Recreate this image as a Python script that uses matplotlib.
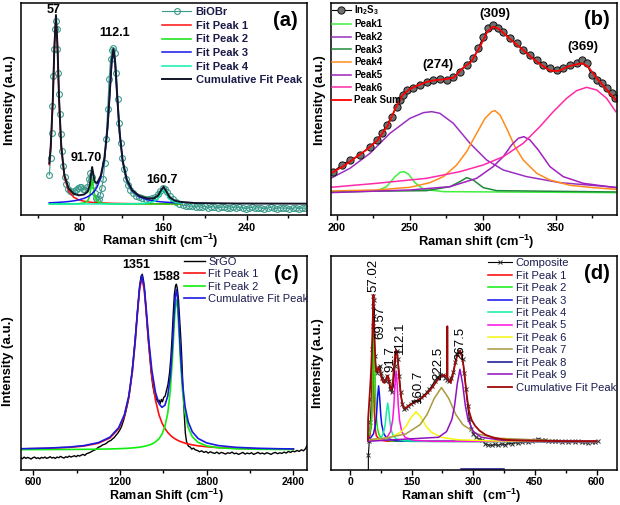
import matplotlib
matplotlib.use('Agg')
import matplotlib.pyplot as plt

plt.rcParams['font.family'] = ['Liberation Sans', 'DejaVu Sans']
plt.rcParams['font.weight'] = 'bold'
plt.rcParams['mathtext.fontset'] = 'custom'
plt.rcParams['mathtext.rm'] = 'Liberation Sans:bold'
plt.rcParams['mathtext.it'] = 'Liberation Sans:bold'
plt.rcParams['mathtext.bf'] = 'Liberation Sans:bold'
plt.rcParams['mathtext.default'] = 'rm'

# ---------------- Panel (a) BiOBr ----------------
xa_data = [50.6, 51.8, 52.8, 53.6, 54.4, 55.2, 56.0, 56.8, 57.6, 58.4, 59.2, 60.0, 60.8, 61.8, 62.8, 64.0, 65.4, 67.0, 68.8, 70.6,
           72.4, 74.2, 76.0, 77.8, 79.6, 81.4, 83.2, 85.0, 86.8, 88.4, 89.8, 91.2, 92.6, 94.0, 95.4, 96.8, 98.2, 99.6, 101.0, 102.4,
           103.8, 105.2, 106.6, 108.0, 109.4, 110.8, 112.2, 113.6, 115.0, 116.4, 117.8, 119.2, 120.6, 122.2, 124.0, 126.0, 128.5, 131.0, 134.0, 137.0,
           140, 143, 146, 149, 152, 154.5, 157, 159.4, 161.8, 164, 166.5, 169, 172, 175.5, 179]
ya_data = [123, 175, 250, 330, 420, 500, 560, 585, 560, 500, 430, 365, 305, 245, 195, 150, 118, 95, 82, 75,
           72, 74, 78, 84, 88, 86, 80, 78, 88, 110, 128, 118, 92, 68, 54, 48, 52, 64, 84, 112,
           160, 230, 320, 410, 470, 498, 505, 488, 430, 350, 280, 220, 175, 140, 112, 92, 78, 68, 60, 56,
           53, 50, 50, 53, 58, 66, 76, 84, 82, 72, 60, 50, 42, 36, 32]
xa_tail = [182, 185, 188, 191, 194, 197, 200, 203, 206, 209, 212, 215, 218, 221, 224, 227, 230, 233, 236, 239,
           242, 245, 248, 251, 254, 257, 260, 263, 266, 269, 272, 275, 278, 281, 284, 287, 290, 293, 296]
ya_tail = [31, 29, 30, 27, 28, 26, 29, 25, 27, 28, 24, 26, 27, 25, 23, 26, 24, 27, 25, 22,
           24, 26, 23, 25, 24, 21, 24, 26, 23, 22, 25, 23, 24, 21, 23, 25, 22, 24, 23]

fit_xa = [50.6, 52, 54, 55.5, 57, 58.5, 60, 62, 65, 69, 74, 79, 84, 87.5, 89.5, 90.7, 91.7, 92.7, 94, 96.5,
          100, 103.5, 106.5, 108.5, 110.5, 112.1, 113.7, 115.7, 118, 121, 125, 130, 137, 145, 151, 155, 158, 160.2, 162.5, 166,
          171, 176]
peak1_a = [154, 206, 344, 502, 598, 502, 344, 206, 118, 75.5, 56.4, 48.4, 44.3, 42.5, 41.7, 41.4, 41, 40.8, 40.4, 39.9,
           39.3, 38.8, 38.5, 38.3, 38.1, 38, 37.9, 37.8, 37.6, 37.5, 37.3, 37.1, 37, 36.8, 36.6, 36.6, 36.6, 36.5, 36.5, 36.5,
           36.4, 36.4]
peak2_a = [36.1, 36.1, 36.1, 36.2, 36.2, 36.2, 36.2, 36.2, 36.3, 36.4, 36.6, 37.2, 39.1, 45.5, 62, 90, 111, 90, 60.5, 43.5,
           38.7, 37.4, 36.9, 36.7, 36.5, 36.5, 36.4, 36.3, 36.3, 36.2, 36.2, 36.2, 36.1, 36.1, 36.1, 36.1, 36.1, 36.1, 36.1, 36.1,
           36.1, 36.1]
peak3_a = [39.7, 39.8, 40.1, 40.3, 40.6, 40.8, 41.1, 41.5, 42.2, 43.4, 45.4, 48.4, 53, 58, 61.8, 64.7, 67.3, 70.4, 75, 87.1,
           115.1, 170, 262.8, 359.5, 462, 498, 462, 359.5, 250.8, 163.7, 107, 75.8, 57.5, 48.6, 45.1, 43.5, 42.5, 42, 41.4, 40.8,
           40, 39.4]
peak4_a = [36.1, 36.1, 36.1, 36.1, 36.1, 36.1, 36.1, 36.1, 36.1, 36.1, 36.1, 36.1, 36.1, 36.2, 36.2, 36.2, 36.2, 36.2, 36.2, 36.2,
           36.2, 36.2, 36.3, 36.3, 36.3, 36.3, 36.3, 36.3, 36.4, 36.5, 36.6, 36.8, 37.3, 38.9, 43.2, 52.7, 70.6, 81, 69.8, 50.5,
           41.4, 38.7]
cum_xa = fit_xa + [190, 230, 297]
cum_a = [158, 210, 348, 507, 603, 507, 350, 212, 124, 83.5, 66.7, 62, 64.5, 74, 93.5, 124, 147, 129, 104, 98.5,
         121, 174.5, 267, 363, 465, 501, 465, 362, 253, 166, 109, 78, 60, 52.4, 53, 61, 77.8, 87.6, 75.8, 56,
         46, 42.6, 39, 37.5, 37]

# ---------------- Panel (b) In2S3 ----------------
xb_data = [197.5, 203.2, 208.9, 215.7, 222.6, 227.2, 230.6, 234.0, 237.5, 240.9, 243.2, 245.4, 247.7, 252.3, 256.8, 261.4,
           266.0, 270.5, 275.1, 279.7, 284.2, 288.8, 293.3, 296.8, 300.2, 303.6, 307.0, 310.5, 313.9, 318.5, 323.0, 327.6,
           332.2, 336.8, 341.3, 345.9, 350.5, 355.0, 359.6, 364.2, 367.6, 371.0, 374.4, 377.9, 381.3, 384.7, 388.1, 390.4]
yb_data = [130, 150, 165, 180, 205, 225, 245, 270, 295, 325, 345, 360, 375, 380, 390, 400,
           405, 407, 405, 413, 430, 450, 470, 500, 535, 560, 570, 560, 550, 530, 515, 495,
           480, 465, 450, 440, 435, 440, 450, 455, 465, 455, 420, 405, 395, 380, 365, 350]
xb_sum = [197, 205, 212, 220, 228, 235, 240, 245, 250, 256, 262, 268, 274, 280, 286, 292, 298, 303, 307, 311,
          316, 322, 328, 334, 340, 346, 352, 358, 364, 368, 372, 378, 384, 391]
yb_sum = [128, 148, 170, 195, 225, 270, 320, 360, 378, 390, 400, 405, 407, 412, 440, 460, 505, 550, 565, 558,
          538, 515, 493, 470, 450, 433, 432, 445, 452, 455, 445, 410, 380, 345]
p1b_x = [195.7, 227.2, 234.0, 239.8, 243.2, 245.9, 248.9, 253.4, 259.2, 272.9, 391.0]
p1b_y = [68, 72, 85, 115, 128, 130, 123, 97, 77, 70, 67]
p2b_x = [195.7, 208.9, 222.6, 236.3, 250.0, 259.2, 264.9, 270.5, 279.7, 291.1, 302.5, 313.9, 329.9, 352.7, 391.0]
p2b_y = [110, 140, 185, 245, 290, 307, 310, 305, 275, 215, 165, 135, 115, 97, 83]
p3b_x = [195.7, 261.4, 277.5, 284.2, 288.8, 293.3, 300.2, 309.4, 391.0]
p3b_y = [70, 73, 85, 100, 112, 105, 82, 73, 69]
p4b_x = [195.7, 227.2, 250.0, 263.7, 272.9, 282.0, 288.8, 295.7, 301.4, 306.0, 308.2, 311.7, 316.2, 321.9, 327.6, 336.8,
         345.9, 359.6, 375.6, 391.0]
p4b_y = [72, 75, 83, 97, 115, 150, 190, 245, 290, 310, 313, 300, 260, 205, 165, 125, 105, 89, 82, 77]
p5b_x = [195.7, 250.0, 277.5, 295.7, 307.0, 313.9, 319.6, 324.2, 328.0, 332.2, 337.9, 345.9, 355.0, 368.7, 391.0]
p5b_y = [67, 75, 85, 110, 145, 175, 210, 230, 235, 225, 195, 145, 115, 95, 82]
p6b_x = [195.7, 227.2, 261.4, 284.2, 300.2, 313.9, 327.6, 339.0, 348.2, 357.3, 364.2, 371.0, 377.9, 384.7, 391.0]
p6b_y = [83, 95, 110, 130, 150, 175, 215, 265, 310, 350, 373, 383, 375, 350, 310]

# ---------------- Panel (c) SrGO ----------------
xc_left = [512, 524, 536, 548, 560, 572, 584, 596, 608, 620, 632, 644, 656, 668, 680, 692, 704, 716, 728, 740,
           752, 764, 776, 788, 800, 812, 824, 836, 848, 860, 872, 884, 896, 908, 920, 932, 944, 956, 968, 980,
           992, 1004, 1016, 1028, 1040, 1052, 1064, 1076, 1088, 1100, 1112, 1124, 1136, 1148, 1160, 1172, 1184, 1196]
yc_left = [36, 33, 38, 34, 37, 35, 32, 36, 38, 34, 36, 33, 37, 35, 38, 34, 36, 39, 35, 37,
           34, 38, 36, 40, 37, 35, 39, 37, 41, 38, 40, 42, 39, 43, 41, 44, 46, 43, 48, 50,
           52, 55, 58, 60, 64, 68, 70, 74, 76, 78, 82, 86, 88, 93, 97, 104, 110, 118]
xc_mid = [1210, 1225, 1240, 1255, 1268, 1280, 1292, 1304, 1316, 1328, 1338, 1346, 1354, 1362, 1372, 1382, 1392, 1402, 1414, 1426,
          1438, 1450, 1460, 1470, 1478, 1486, 1494, 1502, 1512, 1522, 1532, 1542, 1552, 1560, 1568, 1576, 1584, 1590, 1596, 1604,
          1612, 1620, 1628, 1636, 1644, 1652, 1660, 1668, 1676, 1686, 1696, 1708, 1720]
yc_mid = [130, 150, 175, 205, 240, 285, 335, 390, 455, 515, 562, 585, 590, 572, 530, 470, 410, 360, 300, 255,
          228, 215, 205, 210, 200, 212, 205, 218, 222, 240, 258, 290, 340, 400, 470, 530, 555, 560, 548, 515,
          460, 400, 330, 240, 170, 110, 85, 75, 70, 68, 62, 65, 60]
xc_right = [1735, 1750, 1765, 1780, 1795, 1810, 1825, 1840, 1855, 1870, 1885, 1900, 1915, 1930, 1945, 1960, 1975, 1990, 2005, 2020,
            2035, 2050, 2065, 2080, 2095, 2110, 2125, 2140, 2155, 2170, 2185, 2200, 2215, 2230, 2245, 2260, 2275, 2290, 2305, 2320,
            2335, 2350, 2365, 2380, 2395, 2410, 2425, 2440, 2455, 2470, 2485, 2492]
yc_right = [58, 54, 57, 52, 55, 50, 54, 51, 49, 53, 48, 52, 50, 47, 51, 49, 53, 48, 50, 46,
            49, 52, 47, 50, 48, 51, 46, 49, 52, 48, 50, 47, 51, 49, 46, 50, 52, 48, 51, 49,
            53, 50, 55, 52, 56, 54, 58, 55, 60, 57, 64, 72]
fit_xc = [512, 700, 850, 950, 1050, 1130, 1190, 1230, 1260, 1285, 1305, 1320, 1335, 1351, 1367, 1382, 1400, 1420, 1445, 1470,
          1490, 1510, 1530, 1548, 1562, 1574, 1582, 1590, 1598, 1606, 1618, 1632, 1650, 1672, 1700, 1740, 1800, 1880, 2000, 2150,
          2300, 2400]
red_c = [62.6, 64.4, 67.3, 71.3, 79.8, 95.6, 123.2, 162, 217, 294, 386, 469, 544, 578, 544, 469, 371, 283, 210, 165,
         141.3, 124.6, 112.3, 104, 98.7, 95, 92.8, 90.7, 88.9, 87.2, 84.9, 82.6, 80.1, 77.5, 74.9, 72, 69.1, 66.6, 64.4, 62.9,
         62.1, 61.7]
green_c = [60.5, 60.7, 61, 61.3, 61.8, 62.5, 63.3, 64, 64.8, 65.6, 66.3, 67.1, 67.9, 69, 70.3, 71.8, 74, 77.4, 83.6, 93.7,
           106.9, 129.5, 170, 239.5, 330, 431, 489, 513, 489, 431, 330, 239.5, 170, 126.6, 99.4, 82.2, 71.6, 66.1, 63.1, 61.7,
           61, 60.8]
cum_c = [63.1, 65.1, 68.3, 72.6, 81.6, 98.1, 126.5, 166, 221.8, 299.6, 392.3, 476.1, 551.9, 587, 554.3, 480.8, 385, 300.4, 233.6, 198.7,
         188.2, 194.1, 222.3, 283.5, 368.7, 466, 521.8, 543.7, 517.9, 458.2, 354.9, 262.1, 190.1, 144.1, 114.3, 94.2, 80.7, 72.7, 67.5, 64.6,
         63.1, 62.5]

# ---------------- Panel (d) Composite ----------------
xd_data = [44.6, 44.6, 47.0, 49.5, 51.9, 53.5, 54.3, 55.1, 56.0, 56.8, 57.6, 58.4, 59.2, 60.8, 63.3, 66.5, 69.7, 73.0, 75.4, 78.7,
           82.7, 86.8, 90.8, 94.1, 97.3, 101.4, 105.4, 109.5, 111.9, 114.4, 116.8, 120.0, 123.3, 127.3, 131.4, 136.3, 141.9, 147.6, 154.1, 160.6,
           167.1, 173.6, 180.0, 186.5, 193.0, 199.5, 206.0, 212.5, 219.0, 225.5, 231.1, 236.8, 241.7, 246.6, 251.4, 256.3, 261.1, 266.0, 270.0, 274.1,
           278.2, 282.2, 286.3, 290.3, 295.2, 300.0, 306.6, 313.0, 320.4, 328.5, 336.6, 344.7, 352.8, 360.9, 369.0, 377.1, 385.2, 393.3, 401.5, 409.6,
           417.7, 425.8, 433.9, 442.0, 450.1, 458.2, 466.3, 474.5, 482.6, 490.7, 498.8, 506.9, 515.0, 523.1, 531.2, 539.3, 547.4, 555.5, 563.7, 571.8,
           579.9, 588.0, 596.1, 604.2]
yd_data = [-10, 43, 88, 143, 213, 283, 363, 433, 493, 523, 513, 463, 403, 343, 303, 293, 308, 313, 293, 278,
           271, 268, 283, 268, 243, 233, 253, 313, 353, 358, 333, 283, 233, 198, 183, 185, 193, 198, 203, 208,
           211, 218, 225, 233, 243, 253, 268, 278, 285, 285, 278, 271, 268, 278, 295, 325, 350, 358, 353, 333,
           293, 243, 193, 153, 123, 108, 98, 93, 91, 78, 75, 73, 76, 73, 78, 75, 80, 78, 83, 80,
           83, 85, 83, 88, 91, 93, 90, 91, 87, 88, 85, 87, 84, 86, 83, 85, 83, 85, 82, 84,
           81, 84, 82, 85]
xd_cum = [43.5, 44, 46, 48, 50, 52, 54, 55.5, 56.5, 57, 57.5, 58.5, 60, 62, 64, 66.5, 69.5, 72, 75, 79, 83,
          87, 90, 92, 95, 98, 101, 104, 107, 110, 112, 114, 117, 120, 124, 128, 132, 138, 145, 152, 160,
          168, 176, 184, 192, 200, 208, 215, 222, 228, 233, 236.6, 236.8, 237.0, 240, 245, 250, 255, 260, 265, 268,
          272, 276, 280, 285, 290, 296, 304, 315, 330, 350, 380, 420, 470, 530, 600]
yd_cum = [88, 150, 190, 230, 270, 320, 390, 460, 510, 528, 510, 450, 380, 320, 295, 300, 310, 300, 285, 268, 262,
          270, 282, 284, 270, 250, 242, 262, 310, 350, 362, 355, 320, 270, 222, 195, 185, 188, 195, 200, 206,
          212, 218, 226, 236, 248, 262, 274, 282, 285, 283, 282, 433, 280, 270, 262, 285, 315, 340, 355, 358,
          345, 315, 270, 215, 175, 150, 133, 118, 105, 96, 90, 88, 87, 86, 86]
p1d_x = [44, 48, 51, 53, 54, 55, 56, 57, 58, 59, 61, 64, 72, 90, 600]
p1d_y = [93, 102.6, 126.4, 177.4, 235, 325, 385, 325, 235, 177.4, 126.4, 102.6, 89.6, 86, 85]
p2d_x = [44, 47, 50, 52.5, 54, 55.5, 57, 58.5, 60, 61.5, 63, 64.5, 67, 70.5, 75, 82.5, 100, 150, 600]
p2d_y = [99, 107.4, 123.9, 155, 192.8, 260, 365, 435, 365, 260, 192.8, 155, 123.9, 105.6, 96.2, 90.4, 86.8, 85.4, 85]
p3d_x = [44, 49.6, 57.1, 62.1, 64.6, 67.1, 69.6, 72.1, 74.6, 77.1, 82.1, 89.6, 109.6, 150, 600]
p3d_y = [91.2, 94.9, 108.2, 136.7, 169, 219.4, 253, 219.4, 169, 136.7, 108.2, 94.9, 87.6, 85.7, 85]
p4d_x = [44, 69.7, 77.95, 83.45, 86.2, 88.95, 91.7, 94.45, 97.2, 99.95, 105.45, 113.7, 135.7, 200, 600]
p4d_y = [86.5, 91.8, 101, 120.7, 143, 177.8, 201, 177.8, 143, 120.7, 101, 91.8, 86.8, 85.3, 85]
p5d_x = [44, 80, 90.1, 98.35, 103.85, 106.6, 109.35, 112.1, 114.85, 117.6, 120.35, 125.85, 134.1, 156.1, 200, 600]
p5d_y = [86.4, 91.1, 97.5, 114.4, 150.6, 191.5, 255.4, 298, 255.4, 191.5, 150.6, 114.4, 97.5, 88.3, 85.8, 85]
p6d_x = [44, 60.7, 98.2, 123.2, 135.7, 148.2, 160.7, 173.2, 185.7, 198.2, 223.2, 260.7, 360.7, 600]
p6d_y = [89, 90.3, 97.4, 112.7, 130, 157, 175, 157, 130, 112.7, 97.4, 90.3, 86.4, 85.3]
p7d_x = [44, 82.5, 135, 170, 187.5, 205, 222.5, 240, 257.5, 275, 310, 362.5, 502.5, 600]
p7d_y = [91, 94.6, 107.5, 135.2, 166.5, 215.4, 248, 215.4, 166.5, 135.2, 107.5, 94.6, 87.5, 86.4]
p8d_x = [270, 375]
p8d_y = [1.5, 1.5]
p9d_x = [44, 215.5, 235, 248, 254.5, 261, 267.5, 274, 280.5, 287, 300, 319.5, 371.5, 600]
p9d_y = [85.7, 97.8, 115, 152, 194, 259.4, 303, 259.4, 194, 152, 115, 97.8, 88.4, 85.3]

# ---------------- figure ----------------
fig = plt.figure(figsize=(6.2, 5.05), dpi=100)
axa = fig.add_axes([0.0331, 0.5749, 0.4616, 0.4198])
axb = fig.add_axes([0.5334, 0.5743, 0.4610, 0.4198])
axc = fig.add_axes([0.0331, 0.0700, 0.4616, 0.4230])
axd = fig.add_axes([0.5334, 0.0700, 0.4613, 0.4230])


def style(ax, xlim, ylim, major, minor, xlabel, xlc, ylc, tsize=7.8, pad=2.2, lsize=9.3):
    ax.set_xlim(*xlim)
    ax.set_ylim(*ylim)
    ax.set_xticks(major)
    ax.set_xticks(minor, minor=True)
    ax.set_yticks([])
    ax.tick_params(axis='x', which='both', direction='out', top=False, width=1.0, pad=pad)
    ax.tick_params(axis='x', which='major', length=3.5, labelsize=tsize)
    ax.tick_params(axis='x', which='minor', length=2.5)
    for lab in ax.get_xticklabels():
        lab.set_fontweight('bold')
    for sp in ax.spines.values():
        sp.set_linewidth(1.1)
    ax.set_xlabel(xlabel, fontsize=lsize, fontweight='bold', va='center')
    ax.xaxis.set_label_coords(*xlc)
    ax.set_ylabel('Intensity (a.u.)', fontsize=9.5, fontweight='bold', va='center')
    ax.yaxis.set_label_coords(*ylc)


# (a)
teal = '#3a9a8a'
axa.plot(xa_data + xa_tail, ya_data + ya_tail, color=teal, lw=0.8, marker='o', ms=4.2, mfc='none',
         mec=teal, mew=0.8, label='BiOBr')
axa.plot(fit_xa, peak1_a, color='#ff1010', lw=1.1, label='Fit Peak 1')
axa.plot(fit_xa, peak2_a, color='#10e010', lw=1.1, label='Fit Peak 2')
axa.plot(fit_xa, peak3_a, color='#1515ee', lw=1.1, label='Fit Peak 3')
axa.plot(fit_xa, peak4_a, color='#10f0b0', lw=1.1, label='Fit Peak 4')
axa.plot(cum_xa, cum_a, color='#141428', lw=1.4, label='Cumulative Fit Peak')
style(axa, (23, 297.6), (4, 640), [80, 160, 240], [40, 120, 200, 280],
      'Raman shift (cm$^{-1}$)', (0.487, -0.126), (-0.0367, 0.541))
for s, x, y in [('57', 54.4, 618), ('91.70', 85.8, 175), ('112.1', 113.6, 548), ('160.7', 158.4, 108)]:
    axa.text(x, y, s, ha='center', va='center', fontsize=9, fontweight='bold')
axa.text(276.8, 588, '(a)', ha='center', va='center', fontsize=14.5, fontweight='bold')
axa.legend(loc='upper left', bbox_to_anchor=(0.495, 0.978), frameon=False, numpoints=1,
           handlelength=2.6, handletextpad=0.4, labelspacing=0.32, borderpad=0, borderaxespad=0,
           labelcolor='#1a1a48', prop={'weight': 'bold', 'size': 8})

# (b)
axb.plot(p1b_x, p1b_y, color='#40f040', lw=1.1, label='Peak1')
axb.plot(p2b_x, p2b_y, color='#9a30c0', lw=1.1, label='Peak2')
axb.plot(p3b_x, p3b_y, color='#1f8a3a', lw=1.1, label='Peak3')
axb.plot(p4b_x, p4b_y, color='#ff8c1a', lw=1.1, label='Peak4')
axb.plot(p5b_x, p5b_y, color='#a020c0', lw=1.1, label='Peak5')
axb.plot(p6b_x, p6b_y, color='#ff2aa8', lw=1.1, label='Peak6')
axb.plot(xb_data, yb_data, color='black', lw=0.8, marker='o', ms=5.2, mfc='#707070', mec='#111111',
         mew=0.7, label='In$_2$S$_3$')
axb.plot(xb_sum, yb_sum, color='#ff0000', lw=1.3, label='Peak Sum')
style(axb, (195.7, 391.5), (0, 636), [200, 250, 300, 350], [225, 275, 325, 375],
      'Raman shift (cm$^{-1}$)', (0.511, -0.126), (-0.0374, 0.541))
for s, x, y in [('(274)', 269.4, 450), ('(309)', 308.2, 603), ('(369)', 368.7, 505)]:
    axb.text(x, y, s, ha='center', va='center', fontsize=9.5, fontweight='bold')
axb.text(377.9, 585, '(b)', ha='center', va='center', fontsize=14.5, fontweight='bold')
hb, lb = axb.get_legend_handles_labels()
order = [6, 0, 1, 2, 3, 4, 5, 7]
axb.legend([hb[i] for i in order], [lb[i] for i in order], loc='upper left', bbox_to_anchor=(0.003, 1.0),
           frameon=False, numpoints=1, handlelength=2.0, handletextpad=0.3, labelspacing=0.27, borderpad=0,
           borderaxespad=0, labelcolor='black', prop={'weight': 'bold', 'size': 7})

# (c)
axc.plot(xc_left + xc_mid + xc_right, yc_left + yc_mid + yc_right, color='black', lw=1.0, label='SrGO')
axc.plot(fit_xc, red_c, color='#ff1010', lw=1.2, label='Fit Peak 1')
axc.plot(fit_xc, green_c, color='#10ee10', lw=1.2, label='Fit Peak 2')
axc.plot(fit_xc, cum_c, color='#1a1ae0', lw=1.2, label='Cumulative Fit Peak')
style(axc, (511, 2492), (0, 645), [600, 1200, 1800, 2400], [900, 1500, 2100],
      'Raman Shift (cm$^{-1}$)', (0.511, -0.124), (-0.0426, 0.508), tsize=7.5, pad=1.6, lsize=9.0)
axc.text(1315, 618, '1351', ha='center', va='center', fontsize=9, fontweight='bold')
axc.text(1518, 583, '1588', ha='center', va='center', fontsize=9, fontweight='bold')
axc.text(2354, 588, '(c)', ha='center', va='center', fontsize=14.5, fontweight='bold')
axc.legend(loc='upper left', bbox_to_anchor=(0.57, 0.995), frameon=False, handlelength=1.9,
           handletextpad=0.3, labelspacing=0.2, borderpad=0, borderaxespad=0, labelcolor='#1c1c50',
           prop={'weight': 'normal', 'size': 8})

# (d)
axd.plot(xd_data, yd_data, color='black', lw=0.8, marker='x', ms=3.5, mec='#333333', mew=0.7, label='Composite')
axd.plot(p1d_x, p1d_y, color='#ff0000', lw=1.1, label='Fit Peak 1')
axd.plot(p2d_x, p2d_y, color='#10ee10', lw=1.1, label='Fit Peak 2')
axd.plot(p3d_x, p3d_y, color='#1010f0', lw=1.1, label='Fit Peak 3')
axd.plot(p4d_x, p4d_y, color='#10f0a0', lw=1.1, label='Fit Peak 4')
axd.plot(p5d_x, p5d_y, color='#ff10e0', lw=1.1, label='Fit Peak 5')
axd.plot(p6d_x, p6d_y, color='#f5f510', lw=1.1, label='Fit Peak 6')
axd.plot(p7d_x, p7d_y, color='#a89a40', lw=1.1, label='Fit Peak 7')
axd.plot(p8d_x, p8d_y, color='#101090', lw=1.1, label='Fit Peak 8')
axd.plot(p9d_x, p9d_y, color='#9010c0', lw=1.1, label='Fit Peak 9')
axd.plot(xd_cum, yd_cum, color='#a00808', lw=1.3, label='Cumulative Fit Peak')
style(axd, (-47, 649), (0, 645), [0, 150, 300, 450, 600], [75, 225, 375, 525],
      'Raman shift   (cm$^{-1}$)', (0.455, -0.124), (-0.0444, 0.5), tsize=7.5, pad=1.6, lsize=9.0)
for s, x, y in [('57.02', 56.8, 585), ('69.57', 73, 445), ('91.7', 97.3, 335), ('112.1', 121.7, 398),
                ('160.7', 166, 251), ('222.5', 215, 321), ('267.5', 267.6, 381)]:
    axd.text(x, y, s, ha='center', va='center', rotation=90, fontsize=9.5, fontweight='normal')
axd.text(600, 593, '(d)', ha='center', va='center', fontsize=14.5, fontweight='bold')
axd.legend(loc='upper left', bbox_to_anchor=(0.55, 0.99), frameon=False, numpoints=1, handlelength=2.2,
           handletextpad=0.3, labelspacing=0.22, borderpad=0, borderaxespad=0, labelcolor='#1c1c50',
           prop={'weight': 'normal', 'size': 8})

fig.savefig('out.png', dpi=100)
